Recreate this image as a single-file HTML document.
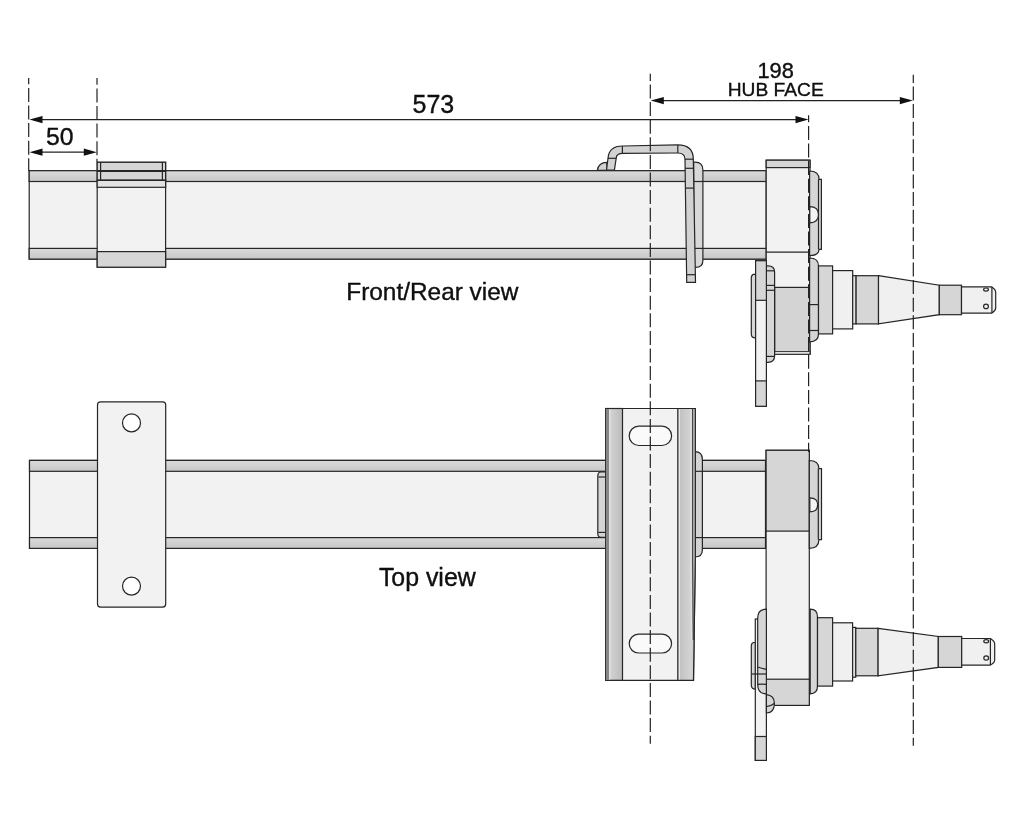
<!DOCTYPE html>
<html><head><meta charset="utf-8">
<style>
html,body{margin:0;padding:0;background:#fff;width:1024px;height:819px;overflow:hidden}
svg{display:block;will-change:transform}
text{font-family:"Liberation Sans",sans-serif;fill:#111}
</style></head><body>
<svg width="1024" height="819" viewBox="0 0 1024 819">
<defs>
<linearGradient id="band" x1="0" y1="0" x2="0" y2="1"><stop offset="0" stop-color="#dadada"/><stop offset="1" stop-color="#c8c8c8"/></linearGradient>
<linearGradient id="lstrip" x1="0" y1="0" x2="1" y2="0"><stop offset="0" stop-color="#dadada"/><stop offset="1" stop-color="#bcbcbc"/></linearGradient>
<linearGradient id="rstrip" x1="0" y1="0" x2="1" y2="0"><stop offset="0" stop-color="#bfbfbf"/><stop offset="0.75" stop-color="#d4d4d4"/><stop offset="1" stop-color="#c4c4c4"/></linearGradient>
</defs>
<g fill="none" stroke="#222" stroke-width="1.3">

<!-- dimension lines -->
<g stroke-width="1.3">
<line x1="33" y1="119.6" x2="804" y2="119.6"/>
<line x1="33" y1="152.2" x2="93" y2="152.2"/>
<line x1="655" y1="100.6" x2="909" y2="100.6"/>
</g>
<g fill="#111" stroke="none">
<path d="M29.5 119.6 L42.5 116 L42.5 123.2 Z"/>
<path d="M808.5 119.6 L795.5 116 L795.5 123.2 Z"/>
<path d="M29.5 152.2 L42.5 148.6 L42.5 155.8 Z"/>
<path d="M96.8 152.2 L83.8 148.6 L83.8 155.8 Z"/>
<path d="M650.8 100.6 L663.8 97 L663.8 104.2 Z"/>
<path d="M912.8 100.6 L899.8 97 L899.8 104.2 Z"/>
</g>
</g>
<g stroke="#000" stroke-width="0.35" fill="#000">
<text x="433.4" y="112.6" font-size="25" text-anchor="middle">573</text>
<text x="59.8" y="145.3" font-size="24.8" text-anchor="middle">50</text>
<text x="775.6" y="78" font-size="21.8" text-anchor="middle">198</text>
<text x="775.75" y="96.2" font-size="19.2" text-anchor="middle">HUB FACE</text>
<text x="432.35" y="299.9" font-size="24.4" text-anchor="middle">Front/Rear view</text>
<text x="427.3" y="586.4" font-size="24.9" text-anchor="middle">Top view</text>
</g>

<!-- FRONT VIEW -->
<g stroke="#262626" stroke-width="1.2">
<!-- tube -->
<rect x="29.2" y="170.7" width="737" height="88.4" fill="#f2f2f2"/>
<rect x="29.2" y="170.7" width="737" height="10.8" fill="url(#band)"/>
<rect x="29.2" y="248.4" width="737" height="10.7" fill="url(#band)"/>
<!-- clamp -->
<rect x="97.2" y="162.3" width="68.4" height="104.9" fill="#f2f2f2"/>
<rect x="97.2" y="162.3" width="68.4" height="18" fill="#d6d6d6"/>
<rect x="97.2" y="180.3" width="68.4" height="7" fill="#e2e2e2"/>
<line x1="97.2" y1="171" x2="165.6" y2="171" stroke-width="1.8"/>
<line x1="97.2" y1="180.3" x2="165.6" y2="180.3"/>
<line x1="100.6" y1="162.3" x2="100.6" y2="180.3"/>
<line x1="162.4" y1="162.3" x2="162.4" y2="180.3"/>
<rect x="97.2" y="251.6" width="68.4" height="15.6" fill="#d6d6d6"/>

<!-- U-bolt back plate -->
<path d="M693.7 267.4 L693.7 162.1 L695 162.1 Q702.9 162.1 702.9 170 L702.9 260.5 Q702.9 267.4 695.5 267.4 Z" fill="#d8d8d8"/>
<line x1="693.7" y1="181.5" x2="702.9" y2="181.5"/>
<line x1="693.7" y1="248.4" x2="702.9" y2="248.4"/>
<!-- hook -->
<path d="M597.3 170.4 Q598.5 162.3 606.8 162.3 L607.2 170.4 Z" fill="#d2d2d2"/>
<!-- U-bolt -->
<path d="M606.5 170.2 L608 158.2 Q609 146 622.4 146 L677.6 144.9 Q693.3 144.9 693.3 159.2 L695.5 282.4 L686.7 282.4 L685 159.2 Q685 153 677.6 153 L623 153.3 Q616.2 153.3 616.2 158.2 L614.4 170.2 Z" fill="#d2d2d2"/>
<g>
<line x1="622.4" y1="146" x2="622.4" y2="153.3"/>
<line x1="608" y1="158.3" x2="616.2" y2="158.3"/>
<line x1="677.8" y1="145" x2="677.8" y2="153"/>
<line x1="685" y1="159.2" x2="693.3" y2="159.2"/>
<line x1="685.2" y1="168.3" x2="693.5" y2="168.3"/>
<line x1="685.6" y1="188.1" x2="693.9" y2="188.1"/>
<line x1="686.5" y1="274.7" x2="695.3" y2="274.7"/>
</g>
<!-- hub block front -->
<rect x="766.2" y="160.2" width="43.8" height="194" fill="#f2f2f2"/>
<rect x="766.2" y="160.2" width="43.8" height="7.4" fill="#d6d6d6"/>
<line x1="766.2" y1="252.2" x2="810" y2="252.2"/>
<rect x="774.6" y="287.4" width="35.4" height="66.8" fill="#d4d4d4"/>
<rect x="774.6" y="351.6" width="35.4" height="2.6" fill="#e8e8e8" stroke-width="0.9"/>
<!-- hub disc upper -->
<path d="M809.6 171 Q819 171 819 179.3 L821.4 179.3 L821.4 249.3 L819 249.3 Q819 255.6 809.6 255.6 Z" fill="#d6d6d6"/>
<line x1="818.5" y1="179.3" x2="818.5" y2="249.3"/>
<path d="M809.8 206.6 Q818.5 206.6 818.5 214.6 Q818.5 222.8 809.8 222.8 Z" fill="#f4f4f4"/>
<!-- hub disc lower -->
<path d="M809.6 258 Q818.5 258 818.5 266 L818.5 334 Q818.5 341.8 809.6 341.8 Z" fill="#d6d6d6"/>
<line x1="810" y1="304.6" x2="818.3" y2="304.6"/>
<line x1="810" y1="330.5" x2="818.3" y2="330.5"/>
<!-- spindle -->
<rect x="818.5" y="265.9" width="14.1" height="68" fill="#d6d6d6"/>
<rect x="832.6" y="270.6" width="20.1" height="58.3" fill="#f0f0f0"/>
<rect x="852.7" y="275.7" width="3.4" height="48.2" fill="#e2e2e2"/>
<rect x="856.1" y="275.7" width="22.4" height="48.2" fill="#d6d6d6"/>
<path d="M878.5 275.7 L939.3 285.2 L939.3 314.7 L878.5 323.9 Z" fill="#f0f0f0"/>
<rect x="939.3" y="285.2" width="22.2" height="29.5" fill="#d6d6d6"/>
<path d="M961.5 286.9 L991.9 286.9 Q995.7 289.5 995.7 292 L995.7 308 Q995.7 310.5 991.9 313.1 L961.5 313.1 Z" fill="#f0f0f0"/>
<line x1="991.9" y1="286.9" x2="991.9" y2="313.1"/>
<ellipse cx="986" cy="289.6" rx="2.4" ry="1.6" fill="#f0f0f0"/>
<ellipse cx="986" cy="306.4" rx="2.4" ry="2.2" fill="#f0f0f0"/>
<!-- rounded element behind plate -->
<path d="M766.4 265.9 L768 265.9 Q774.6 265.9 774.6 272 L774.6 356 Q774.6 362.3 768 362.3 L766.4 362.3 Z" fill="#d6d6d6"/>
<line x1="766.4" y1="270.8" x2="774.6" y2="270.8"/>
<line x1="766.4" y1="285.4" x2="774.6" y2="285.4"/>
<line x1="766.4" y1="290.3" x2="774.6" y2="290.3"/>
<line x1="766.4" y1="356.4" x2="774.6" y2="356.4"/>
<!-- left bump -->
<path d="M755.6 274.4 L753.5 274.4 Q751.3 275 751.3 278 L751.3 334 Q751.3 337.9 755.6 337.9 Z" fill="#d8d8d8"/>
<!-- vertical plate -->
<rect x="755.6" y="260.7" width="10.8" height="145.6" fill="#f2f2f2"/>
<rect x="755.6" y="260.7" width="10.8" height="39.6" fill="#d6d6d6"/>
<rect x="755.6" y="380.9" width="10.8" height="25.4" fill="#d6d6d6"/>
</g>

<!-- TOP VIEW -->
<g stroke="#262626" stroke-width="1.2">
<!-- tube -->
<rect x="29.5" y="460.4" width="736" height="88" fill="#f2f2f2"/>
<rect x="29.5" y="460.4" width="736" height="10.9" fill="url(#band)"/>
<rect x="29.5" y="537.6" width="736" height="10.8" fill="url(#band)"/>
<!-- plate -->
<rect x="97.5" y="401.8" width="68.2" height="205.3" rx="3" fill="#f2f2f2"/>
<circle cx="131.5" cy="422.9" r="9" fill="#fff"/>
<circle cx="131.5" cy="586.1" r="9" fill="#fff"/>
<!-- small cap left of bracket -->
<path d="M607 472 L601 472 Q597.8 472 597.8 476 L597.8 533.5 Q597.8 537.3 601 537.3 L607 537.3 Z" fill="#d4d4d4"/>
<line x1="598.3" y1="477" x2="606.5" y2="477"/>
<line x1="598.3" y1="532.4" x2="606.5" y2="532.4"/>
<!-- right element behind bracket -->
<path d="M693.5 451.6 L695 451.6 Q702.4 451.6 702.4 459.5 L702.4 549.5 Q702.4 557 695 557 L693.5 557 Z" fill="#d4d4d4"/>
<line x1="693.5" y1="471.3" x2="702.4" y2="471.3"/>
<line x1="693.5" y1="537.6" x2="702.4" y2="537.6"/>
<!-- bracket -->
<path d="M605.8 408.5 L695.3 408.5 L695.3 557 L693.5 680.3 L605.8 680.3 Z" fill="#f2f2f2"/>
<rect x="605.8" y="408.5" width="16.7" height="271.8" fill="url(#lstrip)"/>
<rect x="606.2" y="409" width="3" height="270.8" fill="#858585" stroke="none"/>
<line x1="609.8" y1="409.2" x2="609.8" y2="679.6" stroke="#f4f4f4" stroke-width="0.9"/>
<path d="M677.8 408.5 L695.3 408.5 L695.3 557 L693.5 680.3 L677.8 680.3 Z" fill="url(#rstrip)"/>
<line x1="679.4" y1="409.2" x2="679.4" y2="679.6" stroke="#f0f0f0" stroke-width="0.9"/>
<path d="M692.7 408.8 L692.7 557 L693.2 640" fill="none" stroke-width="1"/>
<path d="M690.9 409.2 L690.9 557 L691.6 640" fill="none" stroke="#e2e2e2" stroke-width="1.2"/>
<rect x="629.2" y="426.2" width="42.4" height="19.3" rx="9.6" fill="#fafafa"/>
<rect x="629.2" y="634.2" width="42.4" height="18.8" rx="9.4" fill="#fafafa"/>
<!-- hub block top -->
<rect x="766.1" y="450.3" width="43.2" height="255" fill="#f2f2f2"/>
<rect x="766.1" y="450.3" width="43.2" height="80.8" fill="#d6d6d6"/>
<rect x="766.1" y="679.2" width="43.2" height="26.2" fill="#d6d6d6"/>
<!-- hub disc -->
<path d="M809.3 460.5 Q818.9 460.5 818.9 468.6 L821.5 468.6 L821.5 539.6 L818.9 539.6 Q818.9 548.4 809.3 548.4 Z" fill="#d6d6d6"/>
<line x1="818.3" y1="468.6" x2="818.3" y2="539.6"/>
<path d="M809.8 497.9 Q817.7 497.9 817.7 504.8 Q817.7 511.8 809.8 511.8 Z" fill="#f4f4f4"/>
<!-- collar -->
<path d="M810.2 609.2 Q817.5 609.2 817.5 617 L817.5 686 Q817.5 693.8 810.2 693.8 Z" fill="#d6d6d6"/>
<!-- spindle lower -->
<rect x="817.5" y="617.7" width="15.1" height="68.4" fill="#d6d6d6"/>
<rect x="832.6" y="622.8" width="20" height="58.2" fill="#f0f0f0"/>
<rect x="852.6" y="627.4" width="3.2" height="49.8" fill="#e2e2e2"/>
<rect x="855.8" y="628.3" width="22.3" height="47.5" fill="#d6d6d6"/>
<path d="M878.1 628.3 L938.3 636.5 L938.3 667.4 L878.1 675.8 Z" fill="#f0f0f0"/>
<rect x="938.3" y="636.5" width="23.4" height="30.9" fill="#d6d6d6"/>

<path d="M961.7 638.5 L990.4 638.5 Q994.7 641 994.7 644 L994.7 660 Q994.7 662.6 990.4 665.1 L961.7 665.1 Z" fill="#f0f0f0"/>
<line x1="990.4" y1="638.5" x2="990.4" y2="665.1"/>
<ellipse cx="986.2" cy="641.2" rx="2.4" ry="1.6" fill="#f0f0f0"/>
<ellipse cx="986.2" cy="658" rx="2.4" ry="2.2" fill="#f0f0f0"/>
<!-- left bump and plate -->
<path d="M755.5 642.5 L753.6 642.5 Q751.3 643 751.3 646 L751.3 685 Q751.3 689.1 755.5 689.1 Z" fill="#d8d8d8"/>
<line x1="751.3" y1="674" x2="755.5" y2="674"/>
<rect x="755.3" y="619" width="11.1" height="141.4" fill="#f2f2f2"/>
<rect x="755.3" y="736.5" width="11.1" height="23.9" fill="#d6d6d6"/>
<path d="M766.4 609.2 Q757.7 609.2 757.7 618 L757.7 684.4 Q757.7 693.9 766.4 693.9 Z" fill="#d6d6d6"/>
<path d="M757.7 667 Q762 668.5 766.4 669.3" fill="none"/>
<line x1="755.3" y1="674" x2="766.4" y2="674"/>
<path d="M757.7 684.4 Q762 684 766.4 684.4" fill="none"/>
<path d="M766.4 694.7 Q774.4 695.5 774.4 703.3 Q774.4 713 766.4 713 Z" fill="#d6d6d6"/>
<path d="M766.4 706.6 Q771 706 774.2 703.5" fill="none"/>
</g>
<!-- dashed lines -->
<g fill="none" stroke="#222" stroke-width="1.2" stroke-dasharray="14 3.6">
<line x1="28.7" y1="78" x2="28.7" y2="171" stroke-dashoffset="7.7"/>
<line x1="97" y1="78" x2="97" y2="162" stroke-dashoffset="7.2"/>
<line x1="650.3" y1="73.8" x2="650.3" y2="743.7" stroke-dashoffset="6.9"/>
<line x1="913.3" y1="74.8" x2="913.3" y2="745.8" stroke-dashoffset="5.9"/>
<line x1="808.6" y1="115.3" x2="808.6" y2="452" stroke-dashoffset="7"/>
</g>
</svg>
</body></html>
